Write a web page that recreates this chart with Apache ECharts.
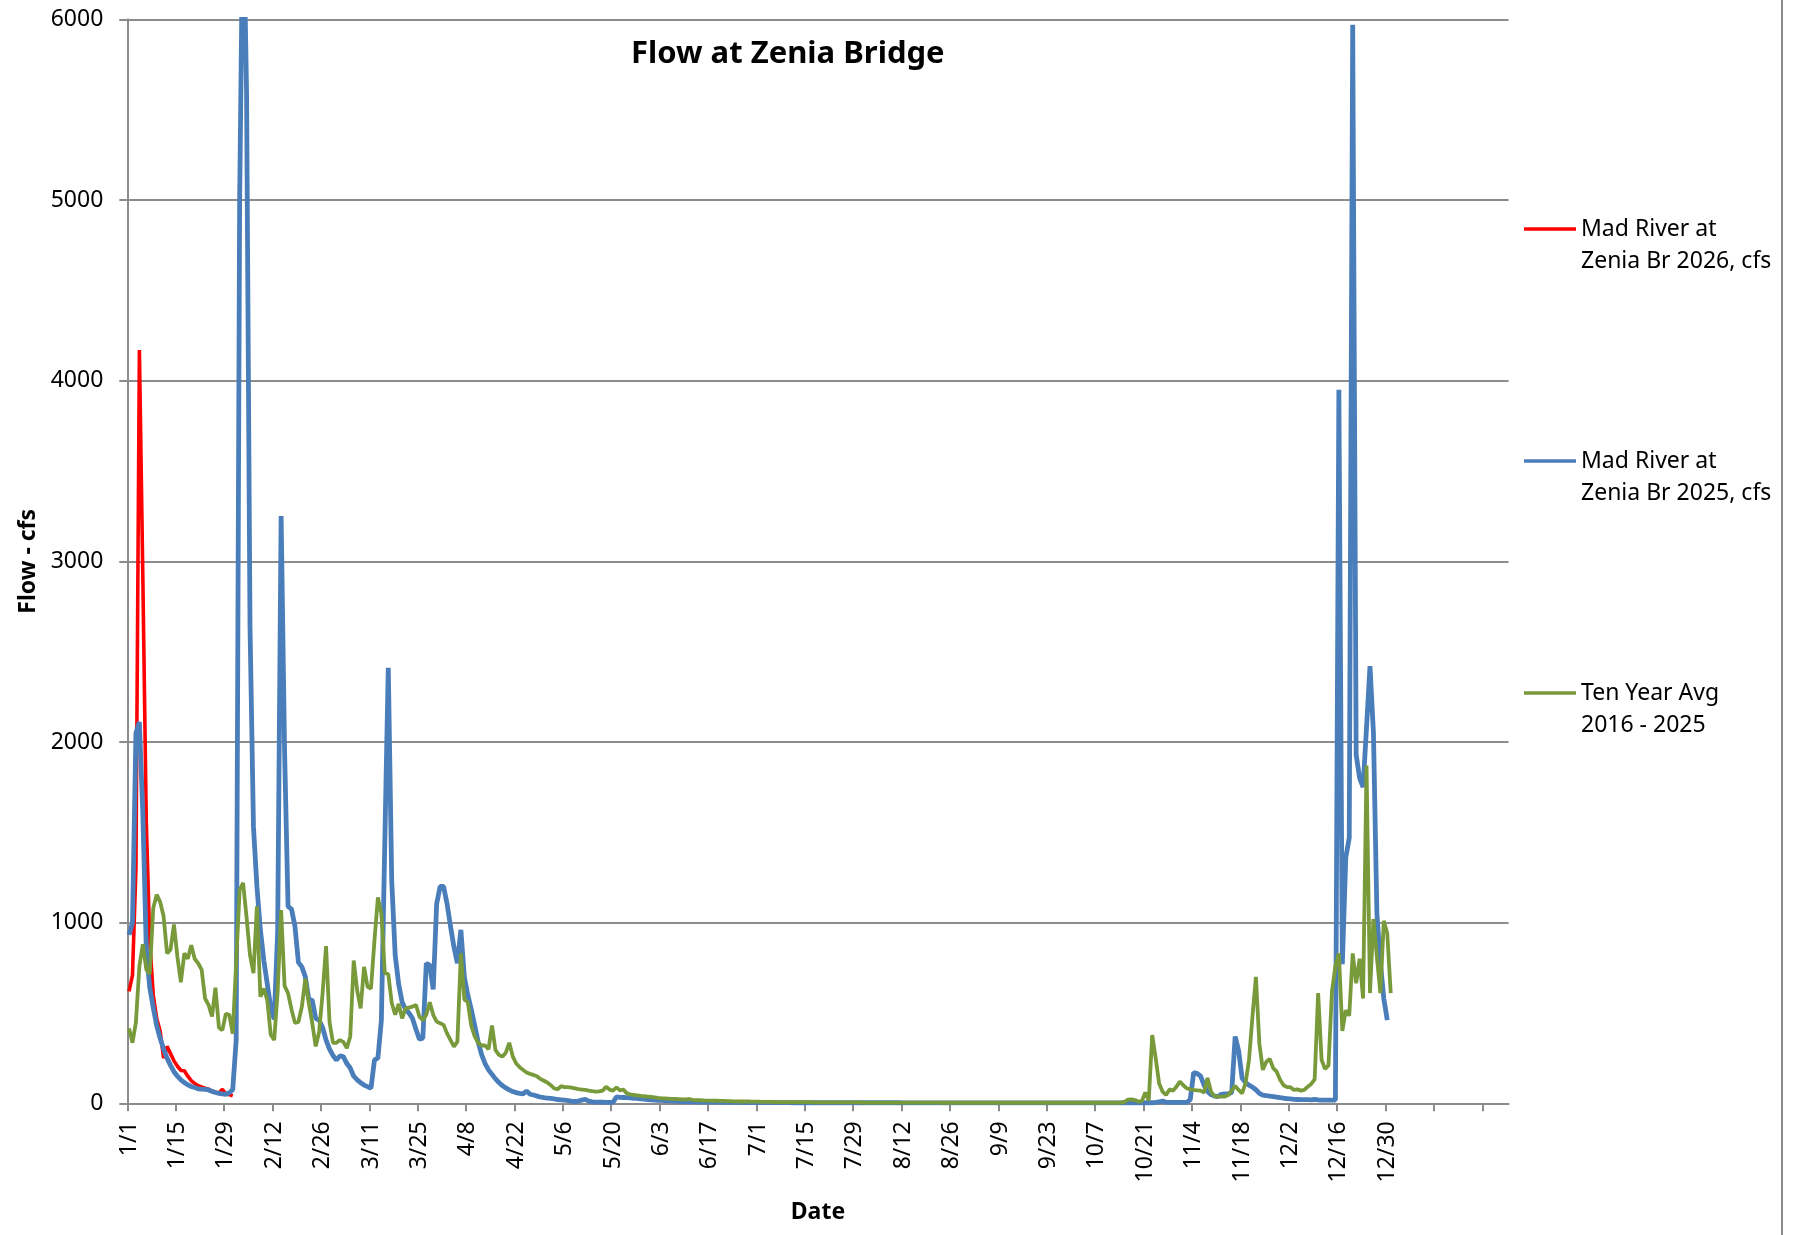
<!DOCTYPE html>
<html>
<head>
<meta charset="utf-8">
<script src="https://cdn.jsdelivr.net/npm/echarts@6/dist/echarts.min.js"></script>
<style>
html,body{margin:0;padding:0;background:#fff;}
#chart{width:1797px;height:1235px;}
</style>
</head>
<body>
<div id="chart"></div>
<script>
// ---- categories / tick labels ----
const monthLengths = [31,29,31,30,31,30,31,31,30,31,30,31];
const dayLabels = [];
monthLengths.forEach(function (len, m) { for (let d = 1; d <= len; d++) dayLabels.push((m + 1) + '/' + d); });
const tickDays = [0,14,28,42,56,70,84,98,112,126,140,154,168,182,196,210,224,238,252,266,280,294,308,322,336,350,364,378,392];
const labelDays = [0,14,28,42,56,70,84,98,112,126,140,154,168,182,196,210,224,238,252,266,280,294,308,322,336,350,364];

const seriesNames = [
  'Mad River at\nZenia Br 2026, cfs',
  'Mad River at\nZenia Br 2025, cfs',
  'Ten Year Avg\n2016 - 2025'
];

// ---- series values (daily, starting 1/1) ----
const flow2026 = [620,710,1300,4170,2900,1550,900,600,470,400,
  250,315,275,235,205,182,180,150,125,110,
  97,90,84,78,68,62,56,78,52,48,
  42];

const flow2025 = [
  932,1000,2050,2110,1600,850,640,530,430,360,
  300,250,210,175,150,130,115,102,93,87,
  80,78,77,74,66,60,55,52,50,58,
  75,350,5000,6700,5600,2640,1530,1200,960,790,
  660,530,465,950,3250,1950,1090,1075,980,780,
  755,700,575,570,470,460,420,350,300,265,
  240,262,258,220,195,150,130,114,101,92,
  83,240,250,460,1450,2410,1230,820,660,560,
  520,500,470,410,355,360,775,765,630,1105,
  1200,1200,1105,980,865,775,960,700,600,520,
  430,340,270,220,185,160,135,115,98,85,
  74,65,59,55,52,68,50,46,40,35,
  31,29,27,24,21,19,17,15,12,10,
  12,18,22,12,8,7,6,6,5,5,
  5,35,33,32,31,30,28,27,25,23,
  21,19,18,17,16,15,14,13,12,11,
  10,9,9,8,8,7,7,7,6,6,
  6,6,5,5,5,5,5,5,4,4,
  4,4,4,4,4,4,4,4,4,4,
  4,4,3,3,3,3,3,3,3,3,
  3,3,3,3,3,3,3,3,3,3,
  3,3,3,3,3,3,3,3,3,3,
  3,3,3,3,2,2,2,2,2,2,
  2,2,2,2,2,2,2,2,2,2,
  2,2,2,2,2,2,2,2,2,2,
  2,2,2,2,2,2,2,2,2,2,
  2,2,2,2,2,2,2,2,2,2,
  2,2,2,2,2,2,2,2,2,2,
  2,2,2,2,2,2,2,2,3,3,
  3,3,3,3,3,3,3,5,8,13,
  6,5,5,5,5,5,5,20,170,165,
  150,100,65,48,40,37,50,52,52,60,
  370,290,140,115,100,90,75,55,45,42,
  40,37,34,31,28,26,24,22,21,20,
  20,20,19,22,19,18,18,18,18,18,
  3950,770,1360,1470,5970,1930,1800,1750,2080,2420,
  2050,1050,780,580,460];

const tenYearAvg = [
  415,335,450,760,880,740,715,1080,1155,1115,
  1035,830,850,990,810,670,830,800,875,800,
  775,740,580,545,480,640,420,405,495,490,
  385,780,1180,1220,1030,820,720,1090,590,635,
  570,380,350,620,1070,650,610,520,445,450,
  535,690,555,445,315,395,610,870,450,335,
  335,350,340,305,370,790,625,525,755,645,
  635,900,1140,1050,720,715,555,490,550,470,
  525,530,535,545,480,460,490,560,490,452,
  443,434,387,350,314,341,830,575,560,430,
  370,335,320,320,300,430,295,268,258,280,
  335,260,220,200,185,170,163,157,150,135,
  125,115,100,82,78,95,90,90,87,83,
  78,76,74,70,67,65,66,70,92,76,
  70,88,72,76,55,50,46,44,41,39,
  37,35,33,30,28,27,26,25,24,23,
  22,21,24,19,18,17,16,15,15,14,
  14,13,13,12,12,11,11,10,10,10,
  9,9,9,8,8,8,8,7,7,7,
  7,7,6,6,6,6,6,6,5,5,
  5,5,5,5,5,5,5,5,5,5,
  5,5,4,4,4,4,4,4,4,4,
  4,4,4,4,4,4,4,4,4,4,
  4,4,4,4,4,3,3,3,3,3,
  3,3,3,3,3,3,3,3,3,3,
  3,3,3,3,3,3,3,3,3,3,
  3,3,3,3,3,3,3,3,3,3,
  3,3,3,3,3,3,3,3,3,3,
  3,3,3,3,3,3,3,4,8,20,
  22,18,10,12,60,15,378,250,110,65,
  46,77,70,92,120,100,83,77,74,72,
  70,60,140,65,40,37,37,37,46,70,
  96,74,55,111,240,480,700,330,185,230,
  245,195,175,130,100,89,89,74,77,70,
  74,92,107,133,610,240,190,210,620,760,
  830,400,515,485,830,665,800,580,1870,610,
  1020,810,610,1010,940,610];

// ---- chart ----
const FONT = "'Noto Sans', sans-serif";
const GRAY = '#8c8c8c';
function toPoints(arr) { return arr.map(function (v, i) { return [i + 0.5, v]; }); }

const chart = echarts.init(document.getElementById('chart'), null, {renderer: 'canvas'});
chart.setOption({
  animation: false,
  backgroundColor: '#ffffff',
  textStyle: {fontFamily: FONT},
  title: {
    text: 'Flow at Zenia Bridge',
    left: 626, top: 34,
    textStyle: {fontFamily: FONT, fontSize: 31, fontWeight: 'bold', color: '#000'}
  },
  legend: {
    orient: 'vertical',
    left: 1519, top: 176,
    itemGap: 136,
    itemWidth: 52, itemHeight: 3.5,
    icon: 'rect',
    data: seriesNames,
    formatter: function (name) { return '\n' + name; },
    textStyle: {fontFamily: FONT, fontSize: 23, color: '#000', lineHeight: 32}
  },
  grid: {left: 127.3, top: 19.3, width: 1381.3, height: 1084, containLabel: false},
  xAxis: {
    type: 'value', min: 0, max: 399.6,
    name: 'Date', nameLocation: 'middle', nameGap: 98,
    nameTextStyle: {fontFamily: FONT, fontSize: 23, fontWeight: 'bold', color: '#000'},
    axisLine: {show: true, onZero: false, lineStyle: {color: GRAY, width: 2}},
    axisTick: {show: true, length: 8, lineStyle: {color: GRAY, width: 2}, customValues: tickDays},
    axisLabel: {
      customValues: labelDays.map(function (d) { return d + 0.5; }),
      formatter: function (v) { return dayLabels[Math.floor(v)] || ''; },
      rotate: 90, margin: 18,
      fontFamily: FONT, fontSize: 23, color: '#000'
    },
    splitLine: {show: false}
  },
  yAxis: {
    type: 'value', min: 0, max: 6000, interval: 1000,
    name: 'Flow - cfs', nameLocation: 'middle', nameGap: 85,
    nameTextStyle: {fontFamily: FONT, fontSize: 23, fontWeight: 'bold', color: '#000'},
    axisLine: {show: true, lineStyle: {color: GRAY, width: 2}},
    axisTick: {show: true, length: 8, lineStyle: {color: GRAY, width: 2}},
    axisLabel: {margin: 24, fontFamily: FONT, fontSize: 23, color: '#000',
      formatter: function (v) { return String(v); }},
    splitLine: {show: true, lineStyle: {color: GRAY, width: 2}}
  },
  graphic: [{
    type: 'line', silent: true,
    shape: {x1: 1782, y1: 0, x2: 1782, y2: 1235},
    style: {stroke: GRAY, lineWidth: 2}
  }],
  series: [
    {name: seriesNames[0], type: 'line', data: toPoints(flow2026), showSymbol: false, symbol: 'none',
     color: '#ff0000', lineStyle: {color: '#ff0000', width: 3.6}, z: 2},
    {name: seriesNames[1], type: 'line', data: toPoints(flow2025), showSymbol: false, symbol: 'none',
     color: '#4a7ebb', lineStyle: {color: '#4a7ebb', width: 4.8}, z: 3},
    {name: seriesNames[2], type: 'line', data: toPoints(tenYearAvg), showSymbol: false, symbol: 'none',
     color: '#799a3b', lineStyle: {color: '#799a3b', width: 3.8}, z: 4}
  ]
});
</script>
</body>
</html>
